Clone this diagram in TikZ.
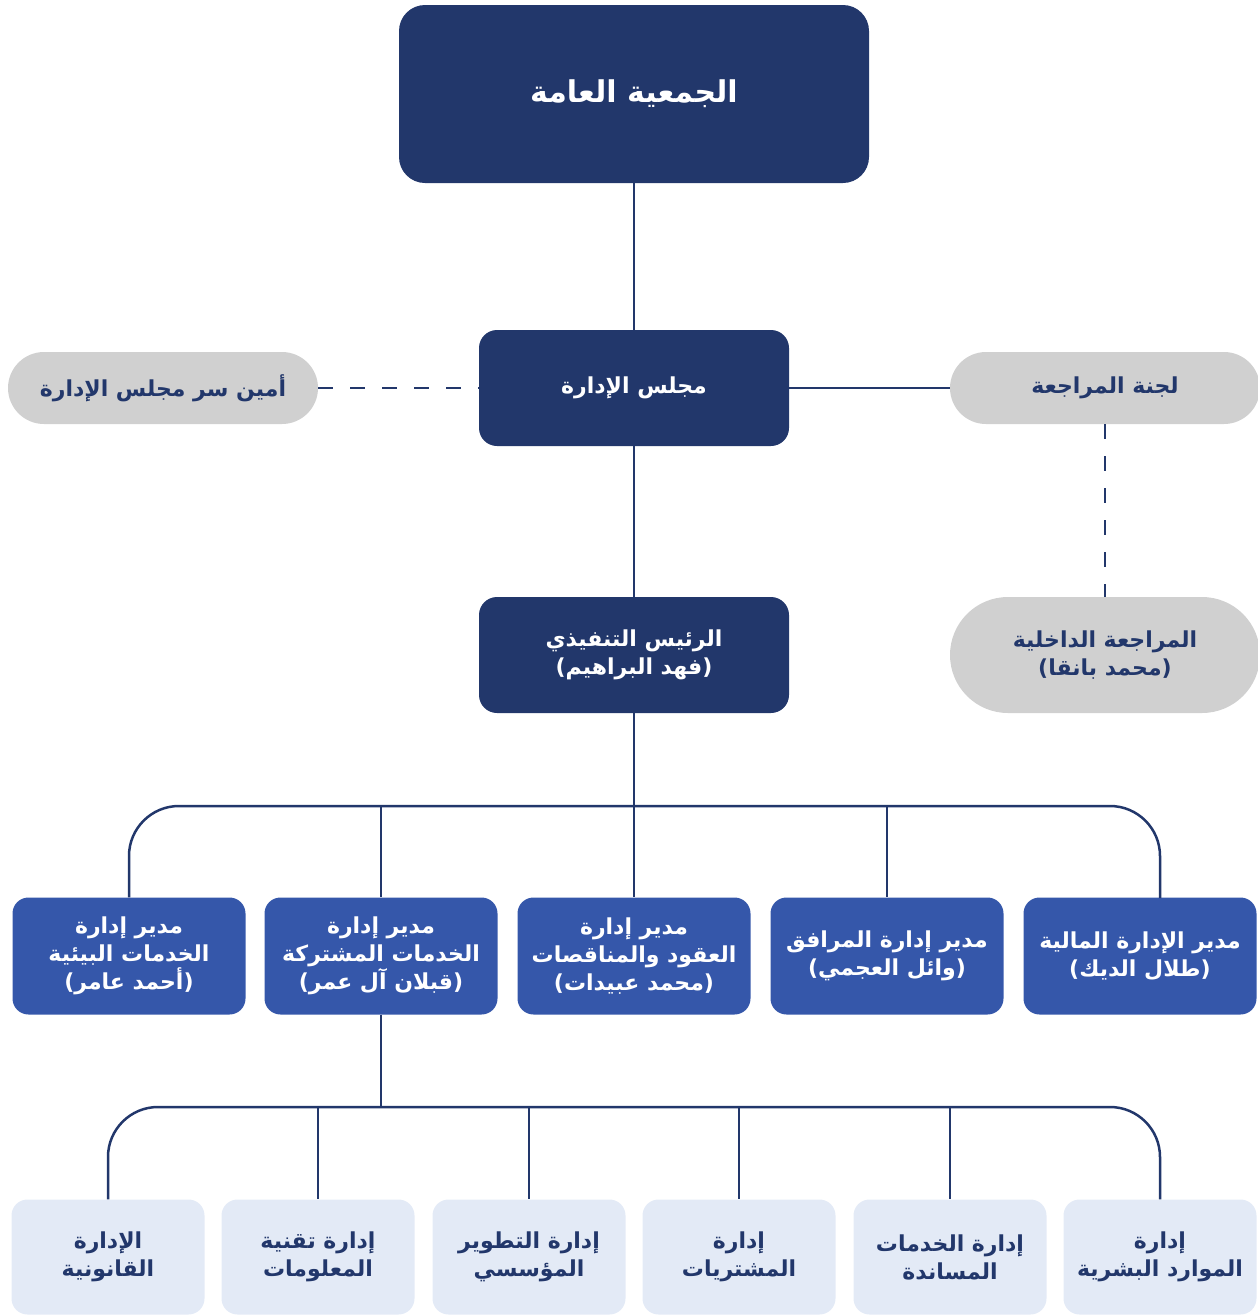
\documentclass[tikz,border=0pt]{standalone}
\usepackage{fontspec}
\newfontfamily\arabicfont[Script=Arabic]{DejaVu Sans}
\TeXXeTstate=1
\usetikzlibrary{positioning}
\definecolor{navy}{HTML}{22376B}
\definecolor{midblue}{HTML}{3557AA}
\definecolor{paleblue}{HTML}{E3EAF6}
\definecolor{pillgray}{HTML}{D0D0D0}
\newcommand{\rl}[1]{\beginR #1\endR}

\begin{document}
\begin{tikzpicture}[x=1pt,y=-1pt,align=center,inner sep=0pt,
	font=\arabicfont\bfseries\fontsize{22}{28}\selectfont,
	chief/.style={fill=navy,text=white,rounded corners=18pt,minimum width=310pt,minimum height=116pt},
	head/.style={fill=midblue,text=white,rounded corners=16pt,minimum width=233pt,minimum height=117pt},
	unit/.style={fill=paleblue,text=navy,rounded corners=16pt,minimum width=193pt,minimum height=115pt},
	pill/.style={fill=pillgray,text=navy,rounded corners=36pt,minimum width=310pt,minimum height=72pt},
	conn/.style={draw=navy,line width=2.5pt},
	dash line/.style={conn,dash pattern=on 15pt off 17pt}]
		\useasboundingbox (0,0) rectangle (1258,1315);

		\node[chief,minimum width=470pt,minimum height=178pt,rounded corners=26pt,font=\arabicfont\bfseries\fontsize{30}{34}\selectfont] (ga) at (634,94) {\rl{الجمعية العامة}};
		\node[chief] (board) at (634,388) {\rl{مجلس الإدارة}};
		\node[pill] (sec) at (163,388) {\rl{أمين سر مجلس الإدارة}};
		\node[pill] (audit) at (1105,388) {\rl{لجنة المراجعة}};
		\node[chief] (ceo) at (634,655) {\rl{الرئيس التنفيذي}\\\rl{(فهد البراهيم)}};
		\node[pill,minimum height=116pt,rounded corners=58pt] (inaudit) at (1105,655) {\rl{المراجعة الداخلية}\\\rl{(محمد بانقا)}};

		\node[head] (env) at (129,956) {\rl{مدير إدارة}\\\rl{الخدمات البيئية}\\\rl{(أحمد عامر)}};
		\node[head] (shared) at (381,956) {\rl{مدير إدارة}\\\rl{الخدمات المشتركة}\\\rl{(قبلان آل عمر)}};
		\node[head] (tender) at (634,956) {\rl{مدير إدارة}\\\rl{العقود والمناقصات}\\\rl{(محمد عبيدات)}};
		\node[head] (facil) at (887,956) {\rl{مدير إدارة المرافق}\\\rl{(وائل العجمي)}};
		\node[head] (fin) at (1140,956) {\rl{مدير الإدارة المالية}\\\rl{(طلال الديك)}};

		\node[unit] (legal) at (108,1257) {\rl{الإدارة}\\\rl{القانونية}};
		\node[unit] (it) at (318,1257) {\rl{إدارة تقنية}\\\rl{المعلومات}};
		\node[unit] (dev) at (529,1257) {\rl{إدارة التطوير}\\\rl{المؤسسي}};
		\node[unit] (purch) at (739,1257) {\rl{إدارة}\\\rl{المشتريات}};
		\node[unit] (support) at (950,1257) {\rl{إدارة الخدمات}\\\rl{المساندة}};
		\node[unit] (hr) at (1160,1257) {\rl{إدارة}\\\rl{الموارد البشرية}};

		\coordinate (busA) at (634,806);
		\coordinate (finjoin) at (1160,898);
		\coordinate (busB) at (381,1107);

		% upper part
		\path[conn] (ga) edge (board)
		            (board) edge (ceo)
		            (board) edge (audit);
		\path[dash line] (sec) edge (board)
		                 (audit) edge (inaudit);

		% managers
		\draw[conn,rounded corners=50pt] (env.north) |- (busA) -| (finjoin);
		\path[conn] (ceo) edge (busA)
		            (shared.north |- busA) edge (shared.north)
		            (facil.north |- busA) edge (facil.north);
		\draw[conn] (busA) -- (tender.north);

		% departments
		\draw[conn,rounded corners=50pt] (legal.north) |- (busB) -| (hr.north);
		\path[conn] (shared) edge (busB)
		            (it.north |- busB) edge (it.north)
		            (dev.north |- busB) edge (dev.north)
		            (purch.north |- busB) edge (purch.north)
		            (support.north |- busB) edge (support.north);
	\end{tikzpicture}
\end{document}
